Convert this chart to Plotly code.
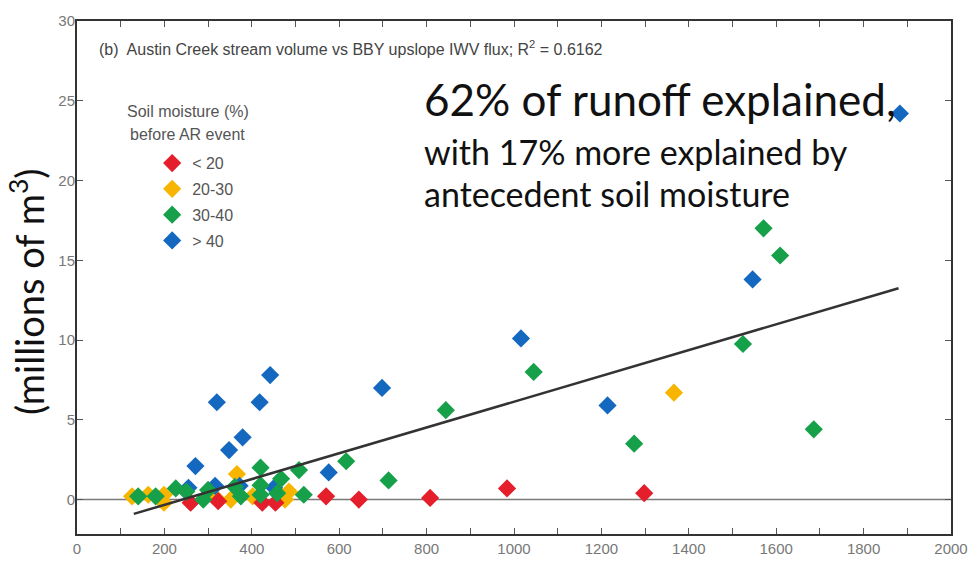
import plotly.graph_objects as go

# ---- data ----
red_x = [260, 323, 424, 454, 570, 645, 808, 984, 1298]
red_y = [-0.2, -0.1, -0.2, -0.2, 0.2, 0.0, 0.1, 0.7, 0.4]

yellow_x = [126, 163, 199, 199, 318, 352, 366, 402, 476, 485, 1366]
yellow_y = [0.2, 0.3, 0.3, -0.2, 0.1, 0.0, 1.6, 0.2, 0.0, 0.5, 6.7]

green_x = [140, 180, 226, 250, 289, 300, 361, 375, 420, 420, 420, 458, 467, 508, 519,
           616, 713, 844, 1045, 1275, 1524, 1571, 1609, 1686]
green_y = [0.2, 0.2, 0.7, 0.5, 0.0, 0.6, 0.8, 0.2, 0.3, 0.9, 2.0, 0.4, 1.3, 1.85, 0.3,
           2.4, 1.2, 5.6, 8.0, 3.5, 9.75, 17.0, 15.3, 4.4]

blue_x = [255, 271, 316, 320, 348, 372, 379, 418, 442, 451, 576, 698, 1016, 1214, 1546, 1883]
blue_y = [0.74, 2.1, 0.86, 6.1, 3.1, 0.86, 3.9, 6.1, 7.8, 0.74, 1.7, 7.0, 10.1, 5.9, 13.8, 24.2]

fit_x = [130, 1880]
fit_y = [-0.9, 13.25]

zero_x = [0, 2000]
zero_y = [0, 0]

x_ticks = [0, 200, 400, 600, 800, 1000, 1200, 1400, 1600, 1800, 2000]
y_ticks = [0, 5, 10, 15, 20, 25, 30]

series = [
    ("< 20", red_x, red_y, "#e41e2b"),
    ("20-30", yellow_x, yellow_y, "#f7b500"),
    ("30-40", green_x, green_y, "#16a04a"),
    ("> 40", blue_x, blue_y, "#1468c0"),
]

TICKFONT = "Liberation Sans Narrow, Liberation Sans, Arial, sans-serif"
BIGFONT = "Lato, Carlito, Calibri, sans-serif"

fig = go.Figure()

fig.add_trace(go.Scatter(x=zero_x, y=zero_y, mode="lines",
                         line=dict(color="#7a7a7a", width=1.5),
                         showlegend=False, hoverinfo="skip"))

draw_order = [1, 0, 3, 2]
for i in draw_order:
    name, xs, ys, col = series[i]
    fig.add_trace(go.Scatter(
        x=xs, y=ys, mode="markers", name=name,
        legendgroup=name, legendrank=i + 1,
        marker=dict(symbol="diamond", size=14, color=col, line=dict(width=0)),
    ))

fig.add_trace(go.Scatter(x=fit_x, y=fit_y, mode="lines",
                         line=dict(color="#333333", width=2.5),
                         showlegend=False, hoverinfo="skip"))

fig.update_layout(
    width=980, height=569,
    margin=dict(l=77, r=17, t=16, b=34),
    paper_bgcolor="white", plot_bgcolor="white",
    showlegend=True,
    legend=dict(x=0.086, y=0.756, xanchor="left", yanchor="top",
                font=dict(family=TICKFONT, size=16, color="#555555"),
                bgcolor="rgba(0,0,0,0)", traceorder="grouped",
                tracegroupgap=2, itemwidth=30),
    xaxis=dict(range=[0, 2000], tickvals=x_ticks, ticks="inside", ticklen=6,
               tickcolor="#555555", showline=True, linecolor="#333333", linewidth=2,
               mirror="ticks", showgrid=False, zeroline=False,
               minor=dict(dtick=100, ticks="inside", ticklen=6, tickcolor="#555555"),
               tickfont=dict(family=TICKFONT, size=15, color="#777777")),
    yaxis=dict(range=[-2.16, 30], tickvals=y_ticks, ticks="inside", ticklen=6,
               tickcolor="#555555", showline=True, linecolor="#333333", linewidth=2,
               mirror="ticks", showgrid=False, zeroline=False, ticklabelstandoff=-3,
               tickfont=dict(family=TICKFONT, size=15, color="#777777")),
)

ann = [
    dict(text="(b)  Austin Creek stream volume vs BBY upslope IWV flux; R<sup>2</sup> = 0.6162",
         x=0.0226, y=0.948, size=16, color="#444444", family=TICKFONT),
    dict(text="Soil moisture (%)", x=0.127, y=0.823, size=16, color="#555555",
         family=TICKFONT, xanchor="center"),
    dict(text="before AR event", x=0.127, y=0.778, size=16, color="#555555",
         family=TICKFONT, xanchor="center"),
    dict(text="62% of runoff explained,", x=0.395, y=0.848, size=44, color="#111111",
         family=BIGFONT),
    dict(text="with 17% more explained by", x=0.395, y=0.746, size=34, color="#111111",
         family=BIGFONT),
    dict(text="antecedent soil moisture", x=0.395, y=0.664, size=34, color="#111111",
         family=BIGFONT),
]
for a in ann:
    fig.add_annotation(text=a["text"], x=a["x"], y=a["y"], xref="paper", yref="paper",
                       xanchor=a.get("xanchor", "left"), yanchor="middle",
                       showarrow=False,
                       font=dict(family=a["family"], size=a["size"], color=a["color"]))

# y-axis title placed as rotated annotation (centred like the reference)
fig.add_annotation(text="(millions of m<sup>3</sup>)", x=-0.057, y=0.472,
                   xref="paper", yref="paper", xanchor="center", yanchor="middle",
                   textangle=-90, showarrow=False,
                   font=dict(family=BIGFONT, size=38, color="#111111"))

fig.write_html("out.html")
